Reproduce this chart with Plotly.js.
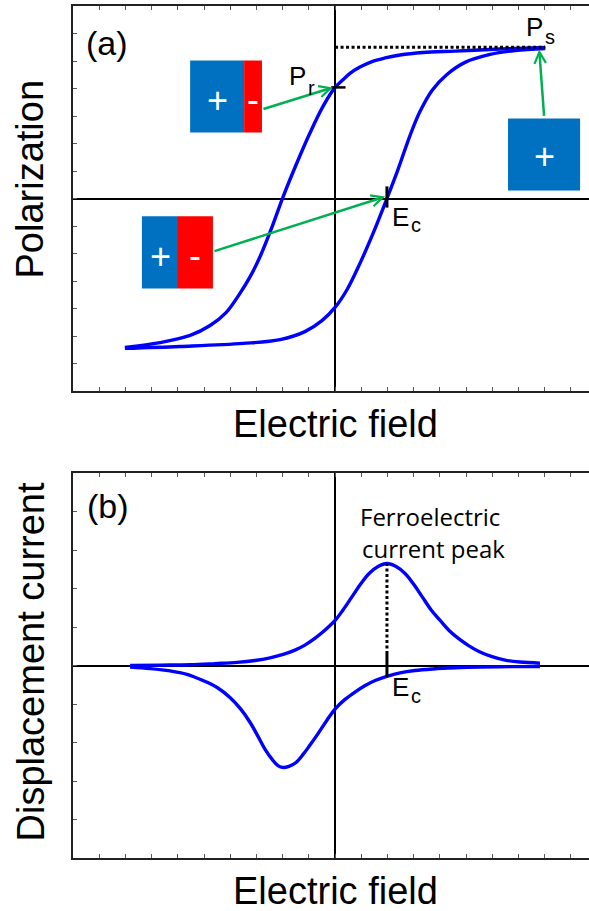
<!DOCTYPE html>
<html>
<head>
<meta charset="utf-8">
<script src="https://cdn.plot.ly/plotly-3.0.1.min.js"></script>
<style>html,body{margin:0;padding:0;background:#fff;}#chart{width:589px;height:911px;}</style>
</head>
<body>
<div id="chart"></div>
<script>
// ---- Data ----
// (a) hysteresis loop: upper branch (field decreasing) and lower branch (field increasing)
const loopUpperE = [8.02, 6.68, 5.92, 4.58, 3.36, 2.48, 1.91, 1.41, 0.95, 0.57, 0.27, 0.00, -0.46, -0.95, -1.45, -1.98, -2.40, -2.86, -3.24, -3.63, -4.16, -4.77, -5.53, -6.68, -8.02];
const loopUpperP = [5.49, 5.45, 5.42, 5.36, 5.31, 5.22, 5.11, 4.98, 4.78, 4.55, 4.29, 4.04, 3.35, 2.40, 1.31, 0.07, -1.02, -2.11, -2.84, -3.45, -4.15, -4.62, -4.98, -5.24, -5.42];
const loopLowerE = [-8.02, -5.92, -3.51, -2.10, -1.15, -0.50, 0.00, 0.46, 0.95, 1.45, 1.98, 2.40, 2.86, 3.24, 3.70, 4.27, 4.96, 5.92, 6.87, 8.02];
const loopLowerP = [-5.45, -5.38, -5.27, -5.13, -4.84, -4.44, -3.96, -3.31, -2.36, -1.27, 0.00, 1.05, 2.29, 3.16, 3.93, 4.51, 4.95, 5.24, 5.38, 5.45];

// (b) displacement current: positive-peak branch and negative-peak branch
const curUpE = [-7.82, -6.68, -5.53, -4.58, -3.74, -3.05, -2.48, -1.98, -1.53, -1.15, -0.76, -0.38, 0.00, 0.31, 0.65, 0.99, 1.30, 1.64, 1.98, 2.33, 2.67, 2.98, 3.32, 3.66, 4.01, 4.35, 4.73, 5.11, 5.53, 5.99, 6.49, 7.06, 7.82];
const curUpI = [0.00, 0.01, 0.02, 0.05, 0.08, 0.13, 0.20, 0.29, 0.40, 0.53, 0.71, 0.92, 1.17, 1.45, 1.79, 2.13, 2.39, 2.57, 2.65, 2.57, 2.39, 2.13, 1.79, 1.45, 1.17, 0.91, 0.69, 0.51, 0.35, 0.23, 0.14, 0.09, 0.06];
const curDownE = [-7.82, -7.06, -6.30, -5.65, -5.04, -4.50, -4.01, -3.59, -3.24, -2.94, -2.67, -2.40, -2.18, -1.98, -1.76, -1.49, -1.22, -0.99, -0.65, -0.31, 0.00, 0.38, 0.76, 1.15, 1.53, 1.98, 2.48, 3.05, 3.74, 4.58, 5.53, 6.68, 7.82];
const curDownI = [-0.04, -0.08, -0.14, -0.23, -0.39, -0.57, -0.83, -1.14, -1.48, -1.84, -2.18, -2.44, -2.60, -2.65, -2.62, -2.52, -2.31, -2.10, -1.77, -1.42, -1.13, -0.88, -0.69, -0.52, -0.39, -0.28, -0.19, -0.13, -0.09, -0.06, -0.04, -0.03, -0.03];

// Characteristic values
const Ec = 1.98;      // coercive field
const Pr = 4.04;      // remanent polarization
const Ps = 5.5;       // saturation polarization
const Emax = 8.02;    // field at saturation
const Ipeak = 2.65;   // ferroelectric current peak

// Labels
const xTitle = "Electric field";
const yTitleA = "Polarization";
const yTitleB = "Displacement current";
const peakLabel = ["Ferroelectric", "current peak"];

// ---- Styling ----
const FONT = "Liberation Sans, Arial, Helvetica, sans-serif";
const BLUE = "#0000FF";
const GREEN = "#00B050";
const BOXBLUE = "#0070C0";
const BOXRED = "#FF0000";

const curve = (x, y, xa, ya) => ({
  x: x, y: y, xaxis: xa, yaxis: ya, type: "scatter", mode: "lines",
  line: {color: BLUE, width: 3.4, shape: "spline", smoothing: 1},
  hoverinfo: "skip", showlegend: false
});

const dotted = {color: "#000", width: 3, dash: "3px,2.5px"};

const traces = [
  curve(loopUpperE, loopUpperP, "x", "y"),
  curve(loopLowerE, loopLowerP, "x", "y"),
  curve(curUpE, curUpI, "x2", "y2"),
  curve(curDownE, curDownI, "x2", "y2"),
  {x: [0, Emax], y: [Ps, Ps], xaxis: "x", yaxis: "y", mode: "lines", line: dotted, showlegend: false, hoverinfo: "skip"},
  {x: [Ec, Ec], y: [0.3, Ipeak], xaxis: "x2", yaxis: "y2", mode: "lines", line: dotted, showlegend: false, hoverinfo: "skip"}
];

const axisBase = {
  showgrid: false, showticklabels: false,
  ticks: "inside", ticklen: 4, tickwidth: 1, tickcolor: "#555",
  showline: true, linecolor: "#222", linewidth: 2,
  zeroline: true, zerolinecolor: "#000", zerolinewidth: 2,
  tick0: 0, dtick: 1, layer: "below traces", fixedrange: true
};

const xRange = [-10, 9.69];

const shapes = [
  // Pr and Ec marks (top)
  {type: "line", xref: "x", yref: "y", x0: -0.15, x1: 0.4, y0: Pr, y1: Pr, line: {color: "#000", width: 2.5}},
  {type: "line", xref: "x", yref: "y", x0: Ec, x1: Ec, y0: -0.33, y1: 0.44, line: {color: "#000", width: 3}},
  // Ec mark (bottom)
  {type: "line", xref: "x2", yref: "y2", x0: Ec, x1: Ec, y0: -0.3, y1: 0.3, line: {color: "#000", width: 3}},
  // domain boxes
  {type: "rect", xref: "x", yref: "y", x0: -5.53, x1: -3.47, y0: 2.40, y1: 5.02, fillcolor: BOXBLUE, line: {width: 0}},
  {type: "rect", xref: "x", yref: "y", x0: -3.47, x1: -2.79, y0: 2.40, y1: 5.02, fillcolor: BOXRED, line: {width: 0}},
  {type: "rect", xref: "x", yref: "y", x0: -7.37, x1: -6.03, y0: -3.27, y1: -0.65, fillcolor: BOXBLUE, line: {width: 0}},
  {type: "rect", xref: "x", yref: "y", x0: -6.03, x1: -4.66, y0: -3.27, y1: -0.65, fillcolor: BOXRED, line: {width: 0}},
  {type: "rect", xref: "x", yref: "y", x0: 6.60, x1: 9.35, y0: 0.29, y1: 2.91, fillcolor: BOXBLUE, line: {width: 0}}
];

const arrow = (x, y, ax, ay) => ({
  xref: "x", yref: "y", axref: "x", ayref: "y", x: x, y: y, ax: ax, ay: ay,
  text: "", showarrow: true, arrowhead: 5, arrowsize: 0.9, arrowwidth: 2.5,
  arrowcolor: GREEN, standoff: 0
});

const txt = (text, x, y, size, opts) => Object.assign({
  text: text, x: x, y: y, showarrow: false, xanchor: "center", yanchor: "middle",
  font: {family: FONT, size: size, color: "#000"}
}, opts || {});
const white = (text, x, y) => txt(text, x, y, 36, {xref: "x", yref: "y", font: {family: FONT, size: 36, color: "#fff"}});

const annotations = [
  arrow(-0.08, 4.04, -2.79, 3.24),
  arrow(1.91, 0.07, -4.66, -1.93),
  arrow(7.79, 5.42, 7.98, 2.95),
  // box signs
  white("+", -4.50, 3.56),
  white("-", -3.13, 3.60),
  white("+", -6.68, -2.11),
  white("-", -5.34, -2.07),
  white("+", 7.98, 1.53),
  // panel labels
  txt("(a)", -8.70, 5.64, 34, {xref: "x", yref: "y"}),
  txt("(b)", -8.66, 4.15, 34, {xref: "x2", yref: "y2"}),
  // value labels (letter + subscript)
  txt("P", 7.21, 6.22, 26, {xref: "x", yref: "y", xanchor: "left"}),
  txt("s", 7.94, 5.88, 20, {xref: "x", yref: "y", xanchor: "left"}),
  txt("P", -1.83, 4.44, 26, {xref: "x", yref: "y", xanchor: "left"}),
  txt("r", -1.11, 4.03, 20, {xref: "x", yref: "y", xanchor: "left"}),
  txt("E", 2.10, -0.69, 26, {xref: "x", yref: "y", xanchor: "left"}),
  txt("c", 2.82, -0.97, 20, {xref: "x", yref: "y", xanchor: "left"}),
  txt("E", 2.10, -0.57, 26, {xref: "x2", yref: "y2", xanchor: "left"}),
  txt("c", 2.82, -0.80, 20, {xref: "x2", yref: "y2", xanchor: "left"}),
  txt(peakLabel[0], 3.64, 3.88, 24, {xref: "x2", yref: "y2", font: {family: "Open Sans, Noto Sans, sans-serif", size: 24, color: "#000"}}),
  txt(peakLabel[1], 3.75, 3.03, 24, {xref: "x2", yref: "y2", font: {family: "Open Sans, Noto Sans, sans-serif", size: 24, color: "#000"}}),
  // axis titles
  txt(yTitleA, 30/589, 1 - 179.5/911, 38, {xref: "paper", yref: "paper", textangle: -90}),
  txt(yTitleB, 30/589, 1 - 662.5/911, 38, {xref: "paper", yref: "paper", textangle: -90}),
  txt(xTitle, 335.5/589, 1 - 423.8/911, 38, {xref: "paper", yref: "paper"}),
  txt(xTitle, 335.5/589, 1 - 890.8/911, 38, {xref: "paper", yref: "paper"})
];

const layout = {
  width: 589, height: 911,
  margin: {l: 0, r: 0, t: 0, b: 0},
  paper_bgcolor: "#fff", plot_bgcolor: "#fff",
  showlegend: false,
  font: {family: FONT, color: "#000"},
  xaxis: Object.assign({}, axisBase, {domain: [73/589, 1], range: xRange, anchor: "y", mirror: "allticks"}),
  yaxis: Object.assign({}, axisBase, {domain: [1 - 391/911, 1 - 6/911], range: [-7, 7], anchor: "x", mirror: false}),
  xaxis2: Object.assign({}, axisBase, {domain: [73/589, 1], range: xRange, anchor: "y2", mirror: "allticks"}),
  yaxis2: Object.assign({}, axisBase, {domain: [1 - 858/911, 1 - 473/911], range: [-5, 5], anchor: "x2", mirror: false}),
  shapes: shapes,
  annotations: annotations
};

Plotly.newPlot("chart", traces, layout, {staticPlot: true, displayModeBar: false});
</script>
</body>
</html>
